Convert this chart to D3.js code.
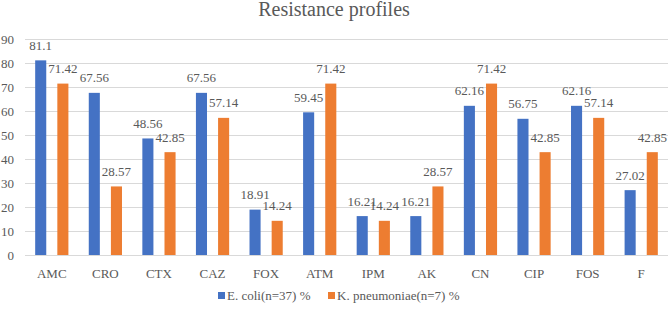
<!DOCTYPE html>
<html>
<head>
<meta charset="utf-8">
<script src="https://cdn.jsdelivr.net/npm/d3@7"></script>
<style>
  body { margin: 0; background: #fff; }
  svg text { font-family: "Liberation Serif", "Times New Roman", serif; fill: #595959; }
</style>
</head>
<body>
<div id="chart-area"></div>
<script>
// chart data
var categories = ["AMC", "CRO", "CTX", "CAZ", "FOX", "ATM", "IPM", "AK", "CN", "CIP", "FOS", "F"];
var seriesNames = ["E. coli(n=37) %", "K. pneumoniae(n=7) %"];
var ecoli = [81.1, 67.56, 48.56, 67.56, 18.91, 59.45, 16.21, 16.21, 62.16, 56.75, 62.16, 27.02];
var kpneu = [71.42, 28.57, 42.85, 57.14, 14.24, 71.42, 14.24, 28.57, 71.42, 42.85, 57.14, 42.85];
var yTicks = [0, 10, 20, 30, 40, 50, 60, 70, 80, 90];
var colors = ["#4472C4", "#ED7D31"];

var W = 669, H = 311;
var margin = { top: 39, right: 1, bottom: 56, left: 25 };
var width = W - margin.left - margin.right;
var height = H - margin.top - margin.bottom;

var svg = d3.select("#chart-area").append("svg")
    .attr("width", W)
    .attr("height", H)
    .attr("font-family", "Liberation Serif, serif");

svg.append("text")
    .attr("x", 334)
    .attr("y", 16)
    .attr("text-anchor", "middle")
    .attr("font-size", "20px")
    .text("Resistance profiles");

var g = svg.append("g")
    .attr("transform", "translate(" + margin.left + "," + margin.top + ")");

var x0 = d3.scaleBand()
    .domain(categories)
    .range([0, width])
    .paddingInner(0.38)
    .paddingOuter(0.19);

var x1 = d3.scaleBand()
    .domain([0, 1])
    .range([0, x0.bandwidth()])
    .paddingInner(0.5);

var y = d3.scaleLinear()
    .domain([0, 90])
    .range([height, 0]);

// grid lines
g.selectAll("line.grid").data(yTicks).enter().append("line")
    .attr("class", "grid")
    .attr("x1", 0)
    .attr("x2", width)
    .attr("y1", (d) => y(d) + 0.5)
    .attr("y2", (d) => y(d) + 0.5)
    .attr("stroke", "#D9D9D9")
    .attr("stroke-width", 1);

// y tick labels
g.selectAll("text.ytick").data(yTicks).enter().append("text")
    .attr("class", "ytick")
    .attr("x", -11)
    .attr("y", (d) => y(d) + 4.5)
    .attr("text-anchor", "end")
    .attr("font-size", "13px")
    .text((d) => d);

// x labels
g.selectAll("text.xtick").data(categories).enter().append("text")
    .attr("class", "xtick")
    .attr("x", (d) => x0(d) + x0.bandwidth() / 2)
    .attr("y", height + 23)
    .attr("text-anchor", "middle")
    .attr("font-size", "13px")
    .text((d) => d);

var rows = categories.map((c, i) => ({ cat: c, vals: [ecoli[i], kpneu[i]] }));

var groups = g.selectAll("g.cat").data(rows).enter().append("g")
    .attr("class", "cat")
    .attr("transform", (d) => "translate(" + x0(d.cat) + ",0)");

groups.selectAll("rect").data((d) => d.vals).enter().append("rect")
    .attr("x", (d, i) => x1(i))
    .attr("y", (d) => y(d))
    .attr("width", x1.bandwidth())
    .attr("height", (d) => height - y(d))
    .attr("fill", (d, i) => colors[i]);

groups.selectAll("text.val").data((d) => d.vals).enter().append("text")
    .attr("class", "val")
    .attr("x", (d, i) => x1(i) + x1.bandwidth() / 2)
    .attr("y", (d) => y(d) - 10.5)
    .attr("text-anchor", "middle")
    .attr("font-size", "13px")
    .text((d) => d);

// legend
var legendX = [218, 328];
var legend = svg.selectAll("g.legend").data(seriesNames).enter().append("g")
    .attr("class", "legend")
    .attr("transform", (d, i) => "translate(" + legendX[i] + ",292)");

legend.append("rect")
    .attr("width", 7)
    .attr("height", 7)
    .attr("fill", (d, i) => colors[i]);

legend.append("text")
    .attr("x", 9)
    .attr("y", 8)
    .attr("font-size", "13px")
    .text((d) => d);
</script>
</body>
</html>
